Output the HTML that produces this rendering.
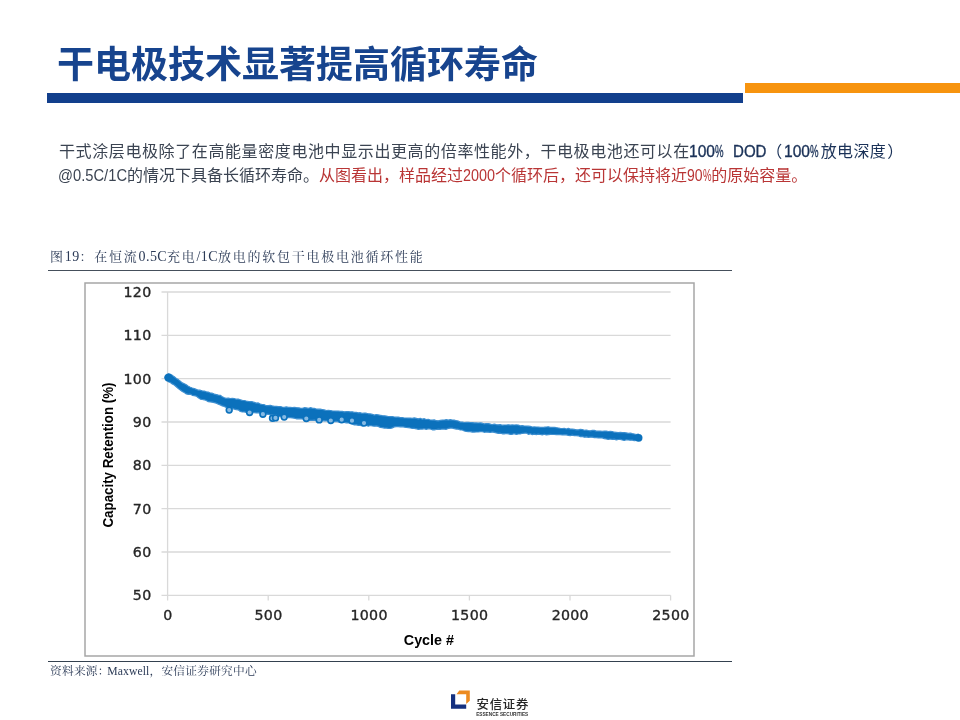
<!DOCTYPE html>
<html><head><meta charset="utf-8">
<style>
html,body{margin:0;padding:0;background:#fff;}
body{width:960px;height:720px;position:relative;overflow:hidden;}
.abs{position:absolute;white-space:nowrap;}
#title{left:57px;top:47px;font:bold 37px/1 "Liberation Sans","Noto Sans CJK SC",sans-serif;color:#17448e;letter-spacing:0px;}
#bar1{left:47px;top:93px;width:696px;height:9.5px;background:#123f8c;}
#bar2{left:745px;top:83px;width:215px;height:9.5px;background:#f7940f;}
.para{left:59px;font:16px/1 "Liberation Sans","Noto Sans CJK SC",sans-serif;color:#3b4452;}
#p1{top:143.5px;}
#p2{top:168.3px;}
.nv{color:#1b3258;}
.nv .n,.nv .pc{-webkit-text-stroke:0.35px #1b3258;}
.n{display:inline-block;transform-origin:0 0;white-space:nowrap;}
.pc{display:inline-block;width:8.6px;transform:scaleX(0.6);transform-origin:0 0;}
.rd{color:#b93535;}
#cap{left:50px;top:249.5px;font:13px/1 "Liberation Serif","Noto Serif CJK SC",serif;color:#2c3b57;letter-spacing:1.75px;}
.ls{letter-spacing:0.4px;font-size:14px;}
#capline{left:48px;top:269.5px;width:684px;height:1.3px;background:#454f5b;}
#srcline{left:48px;top:660.5px;width:684px;height:1.2px;background:#34414f;}
#src{left:50px;top:665.5px;font:11.7px/1 "Liberation Serif","Noto Serif CJK SC",serif;color:#2c3b57;letter-spacing:0.25px;}
#chart{left:0;top:0;}
#logo-cn{left:476.5px;top:699.2px;font:500 12.4px/1 "Liberation Sans","Noto Sans CJK SC",sans-serif;color:#262626;letter-spacing:0.75px;}
</style></head>
<body>
<div class="abs" id="title">干电极技术显著提高循环寿命</div>
<div class="abs" id="bar1"></div>
<div class="abs" id="bar2"></div>
<div class="abs para" id="p1"><span style="letter-spacing:0.6px">干式涂层电极除了在高能量密度电池中显示出更高的倍率性能外，干电极电池还可以在</span><span class="nv"><span class="n" style="width:26px;margin-left:-1.2px;transform:scaleX(0.974)">100</span><span class="pc">%</span> <span class="n" style="width:33.5px;margin-left:5px;transform:scaleX(0.942)">DOD</span>（<span class="n" style="width:26px;margin-left:1.5px;transform:scaleX(0.974)">100</span><span class="pc">%</span><span style="letter-spacing:0.3px;margin-left:2.5px">放电深度</span><span style="margin-left:1.2px">）</span></span></div>
<div class="abs para" id="p2"><span class="n" style="width:69px;margin-left:-1px;transform:scaleX(0.921)">@0.5C/1C</span>的情况下具备长循环寿命。<span class="rd">从图看出，样品经过<span class="n" style="width:32px;transform:scaleX(0.899)">2000</span>个循环后，还可以保持将近<span class="n" style="width:15.6px;transform:scaleX(0.876)">90</span><span class="pc">%</span>的原始容量。</span></div>
<div class="abs" id="cap">图<span class="ls">19</span>：在恒流<span class="ls">0.5C</span>充电<span class="ls">/1C</span>放电的软包干电极电池循环性能</div>
<div class="abs" id="capline"></div>
<svg class="abs" id="chart" width="960" height="720" viewBox="0 0 960 720">
<rect x="85" y="283" width="609" height="373" fill="#fff" stroke="#a6a6a6" stroke-width="1.5"/>
<g stroke="#d9d9d9" stroke-width="1.3"><line x1="161.5" y1="292.0" x2="670.6" y2="292.0"/><line x1="161.5" y1="335.3" x2="670.6" y2="335.3"/><line x1="161.5" y1="378.7" x2="670.6" y2="378.7"/><line x1="161.5" y1="422.0" x2="670.6" y2="422.0"/><line x1="161.5" y1="465.3" x2="670.6" y2="465.3"/><line x1="161.5" y1="508.6" x2="670.6" y2="508.6"/><line x1="161.5" y1="552.0" x2="670.6" y2="552.0"/></g>
<g stroke="#d9d9d9" stroke-width="1.3"><line x1="167.6" y1="292.0" x2="167.6" y2="595.3"/><line x1="161.5" y1="595.3" x2="670.6" y2="595.3"/><line x1="167.6" y1="595.3" x2="167.6" y2="600.5"/><line x1="268.2" y1="595.3" x2="268.2" y2="600.5"/><line x1="368.8" y1="595.3" x2="368.8" y2="600.5"/><line x1="469.4" y1="595.3" x2="469.4" y2="600.5"/><line x1="570.0" y1="595.3" x2="570.0" y2="600.5"/><line x1="670.6" y1="595.3" x2="670.6" y2="600.5"/></g>
<g font-family="DejaVu Sans, sans-serif" font-size="14.2" letter-spacing="0.3" fill="#262626" stroke="#262626" stroke-width="0.35"><text x="151.5" y="297.0" text-anchor="end">120</text><text x="151.5" y="340.3" text-anchor="end">110</text><text x="151.5" y="383.7" text-anchor="end">100</text><text x="151.5" y="427.0" text-anchor="end">90</text><text x="151.5" y="470.3" text-anchor="end">80</text><text x="151.5" y="513.6" text-anchor="end">70</text><text x="151.5" y="557.0" text-anchor="end">60</text><text x="151.5" y="600.3" text-anchor="end">50</text><text x="167.9" y="620.3" text-anchor="middle">0</text><text x="268.5" y="620.3" text-anchor="middle">500</text><text x="369.1" y="620.3" text-anchor="middle">1000</text><text x="469.7" y="620.3" text-anchor="middle">1500</text><text x="570.3" y="620.3" text-anchor="middle">2000</text><text x="670.9" y="620.3" text-anchor="middle">2500</text></g>
<text x="403.8" y="644.8" font-family="Liberation Sans, sans-serif" font-weight="bold" font-size="15" fill="#000" textLength="50.2" lengthAdjust="spacingAndGlyphs">Cycle #</text>
<text transform="translate(112.8,527.5) rotate(-90)" font-family="Liberation Sans, sans-serif" font-weight="bold" font-size="15" fill="#000" textLength="145" lengthAdjust="spacingAndGlyphs">Capacity Retention (%)</text>
<g fill="#0b71bc"><path d="M168.3,373.8 L170.3,374.4 L172.3,375.4 L174.3,376.8 L176.3,378.4 L178.3,379.6 L180.3,381.2 L182.3,382.9 L184.3,383.7 L186.3,384.8 L188.3,386.2 L190.3,387.2 L192.3,388.0 L194.3,388.5 L196.3,389.4 L198.3,390.2 L200.3,390.2 L202.3,390.9 L204.3,391.1 L206.3,391.8 L208.3,392.1 L210.3,393.0 L212.3,393.2 L214.3,394.1 L216.3,394.6 L218.3,395.1 L220.3,395.3 L222.3,396.7 L224.3,397.8 L226.3,398.4 L228.3,398.1 L230.3,398.5 L232.3,398.4 L234.3,398.5 L236.3,399.2 L238.3,399.1 L240.3,399.7 L242.3,400.4 L244.3,400.5 L246.3,401.0 L248.3,401.4 L250.3,401.7 L252.3,401.7 L254.3,402.4 L256.3,403.1 L258.3,402.9 L260.3,404.1 L262.3,404.5 L264.3,404.7 L266.3,405.7 L268.3,405.6 L270.3,405.4 L272.3,405.9 L274.3,406.3 L276.3,406.3 L278.3,406.7 L280.3,406.6 L282.3,407.0 L284.3,407.3 L286.3,406.9 L288.3,407.3 L290.3,407.3 L292.3,407.5 L294.3,407.3 L296.3,407.6 L298.3,407.8 L300.3,408.1 L302.3,408.3 L304.3,407.7 L306.3,407.9 L308.3,408.3 L310.3,407.7 L312.3,408.2 L314.3,408.4 L316.3,409.0 L318.3,409.2 L320.3,409.2 L322.3,409.5 L324.3,409.9 L326.3,410.5 L328.3,410.3 L330.3,410.5 L332.3,410.9 L334.3,411.0 L336.3,411.1 L338.3,411.0 L340.3,411.4 L342.3,411.3 L344.3,411.8 L346.3,411.7 L348.3,411.6 L350.3,411.9 L352.3,411.8 L354.3,412.4 L356.3,412.4 L358.3,412.9 L360.3,412.7 L362.3,413.4 L364.3,413.1 L366.3,413.2 L368.3,413.8 L370.3,413.9 L372.3,414.3 L374.3,415.1 L376.3,414.5 L378.3,414.9 L380.3,415.3 L382.3,415.7 L384.3,415.8 L386.3,416.1 L388.3,416.5 L390.3,416.7 L392.3,416.5 L394.3,417.0 L396.3,417.2 L398.3,417.1 L400.3,417.6 L402.3,417.5 L404.3,418.0 L406.3,418.0 L408.3,418.1 L410.3,418.0 L412.3,418.3 L414.3,417.9 L416.3,418.3 L418.3,418.8 L420.3,418.3 L422.3,419.2 L424.3,418.7 L426.3,419.5 L428.3,419.3 L430.3,420.0 L432.3,420.1 L434.3,419.9 L436.3,420.7 L438.3,420.8 L440.3,420.3 L442.3,420.1 L444.3,420.0 L446.3,419.7 L448.3,420.1 L450.3,419.7 L452.3,420.0 L454.3,420.1 L456.3,420.7 L458.3,421.0 L460.3,422.1 L462.3,422.0 L464.3,422.5 L466.3,422.4 L468.3,422.3 L470.3,422.5 L472.3,422.6 L474.3,422.9 L476.3,422.9 L478.3,423.0 L480.3,422.9 L482.3,423.2 L484.3,423.9 L486.3,423.5 L488.3,423.6 L490.3,424.1 L492.3,424.7 L494.3,424.2 L496.3,424.7 L498.3,424.8 L500.3,424.6 L502.3,425.2 L504.3,425.0 L506.3,425.0 L508.3,424.8 L510.3,425.1 L512.3,424.9 L514.3,425.0 L516.3,424.9 L518.3,425.0 L520.3,425.9 L522.3,425.6 L524.3,426.0 L526.3,426.1 L528.3,426.2 L530.3,426.4 L532.3,427.0 L534.3,426.9 L536.3,427.0 L538.3,427.1 L540.3,427.4 L542.3,427.3 L544.3,427.2 L546.3,427.0 L548.3,426.8 L550.3,427.3 L552.3,427.4 L554.3,427.3 L556.3,427.7 L558.3,428.0 L560.3,428.3 L562.3,428.5 L564.3,428.3 L566.3,429.0 L568.3,428.4 L570.3,429.1 L572.3,429.1 L574.3,429.4 L576.3,429.8 L578.3,429.9 L580.3,429.4 L582.3,429.5 L584.3,430.3 L586.3,430.0 L588.3,430.5 L590.3,430.8 L592.3,430.3 L594.3,430.4 L596.3,431.1 L598.3,431.1 L600.3,431.1 L602.3,431.3 L604.3,431.1 L606.3,431.0 L608.3,431.5 L610.3,431.4 L612.3,431.5 L614.3,432.2 L616.3,432.3 L618.3,432.6 L620.3,432.4 L622.3,432.6 L624.3,432.7 L626.3,432.9 L628.3,433.3 L630.3,433.2 L632.3,433.7 L634.3,434.0 L636.3,434.6 L638.3,434.0 L638.3,440.4 L636.3,440.4 L634.3,440.7 L632.3,440.1 L630.3,440.2 L628.3,440.0 L626.3,439.8 L624.3,440.5 L622.3,440.0 L620.3,439.4 L618.3,439.5 L616.3,439.9 L614.3,439.1 L612.3,439.4 L610.3,439.0 L608.3,439.4 L606.3,439.0 L604.3,438.6 L602.3,437.9 L600.3,437.9 L598.3,437.9 L596.3,437.6 L594.3,437.7 L592.3,437.2 L590.3,437.2 L588.3,437.3 L586.3,436.8 L584.3,437.2 L582.3,436.4 L580.3,436.6 L578.3,435.8 L576.3,435.7 L574.3,435.7 L572.3,435.1 L570.3,435.7 L568.3,435.3 L566.3,434.8 L564.3,434.8 L562.3,434.9 L560.3,434.7 L558.3,434.7 L556.3,434.7 L554.3,434.5 L552.3,434.5 L550.3,434.3 L548.3,434.7 L546.3,434.9 L544.3,434.2 L542.3,434.9 L540.3,434.5 L538.3,434.1 L536.3,434.6 L534.3,434.2 L532.3,434.6 L530.3,433.8 L528.3,434.3 L526.3,433.0 L524.3,433.2 L522.3,433.3 L520.3,434.0 L518.3,434.0 L516.3,434.4 L514.3,433.6 L512.3,434.3 L510.3,434.4 L508.3,433.8 L506.3,433.5 L504.3,433.8 L502.3,433.8 L500.3,433.2 L498.3,433.3 L496.3,432.9 L494.3,432.4 L492.3,431.9 L490.3,432.5 L488.3,432.2 L486.3,432.0 L484.3,432.3 L482.3,431.7 L480.3,431.7 L478.3,432.0 L476.3,432.0 L474.3,432.1 L472.3,432.1 L470.3,431.6 L468.3,431.7 L466.3,431.4 L464.3,431.0 L462.3,430.0 L460.3,430.0 L458.3,429.2 L456.3,429.1 L454.3,428.7 L452.3,428.1 L450.3,428.1 L448.3,428.4 L446.3,429.3 L444.3,429.1 L442.3,429.0 L440.3,429.3 L438.3,429.1 L436.3,429.5 L434.3,429.8 L432.3,429.8 L430.3,429.0 L428.3,428.8 L426.3,429.4 L424.3,428.7 L422.3,429.1 L420.3,429.1 L418.3,429.4 L416.3,428.8 L414.3,428.4 L412.3,428.3 L410.3,428.0 L408.3,427.6 L406.3,427.5 L404.3,427.1 L402.3,426.7 L400.3,426.8 L398.3,426.6 L396.3,426.6 L394.3,426.9 L392.3,427.9 L390.3,428.5 L388.3,428.4 L386.3,428.1 L384.3,428.1 L382.3,427.6 L380.3,427.5 L378.3,426.4 L376.3,425.9 L374.3,426.2 L372.3,426.0 L370.3,425.5 L368.3,426.2 L366.3,425.5 L364.3,425.5 L362.3,426.0 L360.3,425.4 L358.3,425.3 L356.3,424.8 L354.3,424.9 L352.3,423.9 L350.3,423.1 L348.3,423.0 L346.3,422.8 L344.3,422.3 L342.3,422.1 L340.3,422.4 L338.3,421.9 L336.3,421.4 L334.3,421.7 L332.3,421.0 L330.3,421.1 L328.3,420.6 L326.3,421.0 L324.3,420.8 L322.3,420.7 L320.3,420.6 L318.3,421.0 L316.3,420.6 L314.3,420.2 L312.3,420.4 L310.3,420.3 L308.3,420.2 L306.3,420.3 L304.3,419.3 L302.3,418.9 L300.3,418.8 L298.3,418.8 L296.3,418.8 L294.3,418.2 L292.3,417.9 L290.3,417.7 L288.3,417.6 L286.3,417.3 L284.3,417.2 L282.3,417.0 L280.3,416.7 L278.3,416.5 L276.3,415.1 L274.3,415.2 L272.3,414.8 L270.3,415.0 L268.3,414.3 L266.3,414.1 L264.3,414.1 L262.3,413.4 L260.3,413.2 L258.3,412.8 L256.3,412.9 L254.3,412.7 L252.3,412.7 L250.3,411.7 L248.3,412.5 L246.3,412.5 L244.3,411.9 L242.3,412.0 L240.3,411.5 L238.3,409.9 L236.3,409.6 L234.3,409.1 L232.3,408.4 L230.3,408.7 L228.3,407.8 L226.3,407.6 L224.3,406.4 L222.3,405.9 L220.3,404.9 L218.3,404.1 L216.3,403.2 L214.3,402.7 L212.3,402.2 L210.3,401.9 L208.3,401.7 L206.3,400.5 L204.3,399.8 L202.3,399.5 L200.3,399.1 L198.3,397.8 L196.3,396.1 L194.3,395.7 L192.3,395.3 L190.3,394.2 L188.3,394.3 L186.3,393.9 L184.3,392.6 L182.3,391.4 L180.3,389.9 L178.3,388.6 L176.3,386.8 L174.3,385.0 L172.3,383.9 L170.3,382.5 L168.3,381.6 Z" stroke="#3d8fd0" stroke-width="1.2" stroke-linejoin="round"/><circle cx="168.4" cy="377.6" r="4.2"/><circle cx="638.6" cy="437.8" r="3.9"/></g>
<g fill="#86bae4" stroke="#0b71bc" stroke-width="1.6"><circle cx="229.2" cy="410.1" r="2.9"/><circle cx="249.6" cy="412.5" r="2.9"/><circle cx="262.9" cy="414.2" r="2.9"/><circle cx="272.5" cy="418.3" r="2.9"/><circle cx="275.5" cy="417.9" r="2.9"/><circle cx="284.2" cy="417.1" r="2.9"/><circle cx="306.3" cy="418.5" r="2.9"/><circle cx="319.2" cy="419.9" r="2.9"/><circle cx="330.8" cy="420.5" r="2.9"/><circle cx="341.7" cy="419.7" r="2.9"/><circle cx="352" cy="420.7" r="2.9"/><circle cx="364" cy="423.1" r="2.9"/></g>
<g transform="translate(0,0)">
<path d="M451,694.3 h4.2 v10.3 h11 v4.2 h-15.2 z" fill="#15307f"/>
<path d="M459.3,690.5 L469.8,690.5 L469.8,700.7 L466.2,703.9 L466.2,694.2 L456.5,694.2 Z" fill="#ec8a20"/>
</g>
<text x="476.2" y="715.8" font-family="Liberation Sans, sans-serif" font-size="5.6" font-weight="bold" fill="#333" textLength="52" lengthAdjust="spacingAndGlyphs">ESSENCE SECURITIES</text>
</svg>
<div class="abs" id="srcline"></div>
<div class="abs" id="src">资料来源：<span style="margin-left:-2.5px;letter-spacing:0.1px">Maxwell</span>，安信证券研究中心</div>
<div class="abs" id="logo-cn">安信证券</div>
</body></html>
